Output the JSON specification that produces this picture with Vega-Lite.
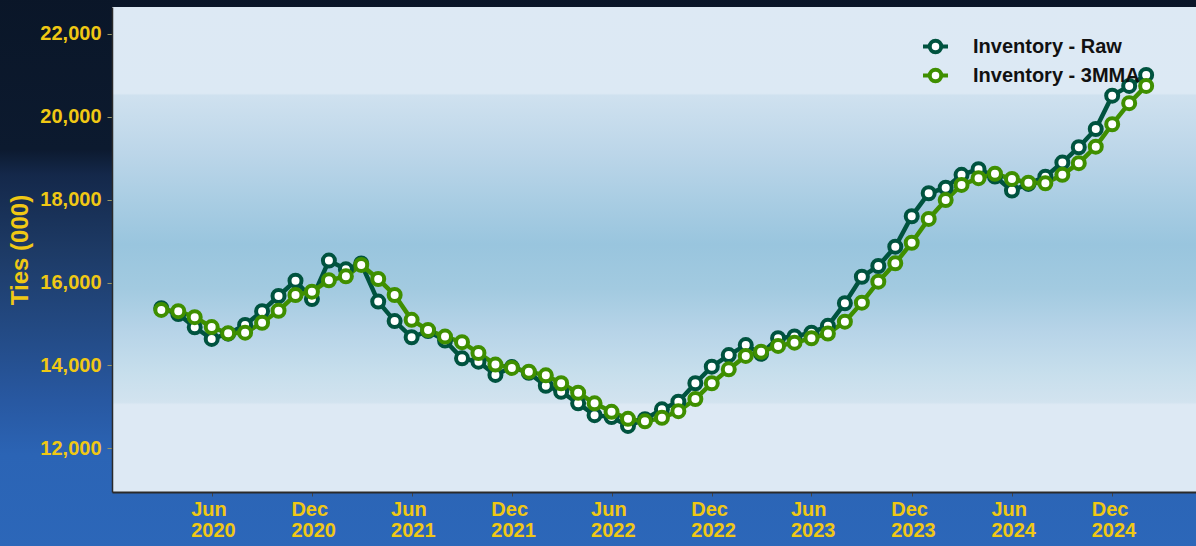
{
  "$schema": "https://vega.github.io/schema/vega-lite/v6.json",
  "width": 1084,
  "height": 485,
  "autosize": {"type": "none"},
  "padding": {"left": 112, "top": 7, "right": 0, "bottom": 54},
  "background": "#2c67b9",
  "config": {"view": {"stroke": null}, "font": "Liberation Sans"},
  "data": {
    "values": [
      {"date": "2020-03-01", "Inventory - Raw": 15380, "Inventory - 3MMA": 15340},
      {"date": "2020-04-01", "Inventory - Raw": 15240, "Inventory - 3MMA": 15310},
      {"date": "2020-05-01", "Inventory - Raw": 14920, "Inventory - 3MMA": 15165},
      {"date": "2020-06-01", "Inventory - Raw": 14640, "Inventory - 3MMA": 14925},
      {"date": "2020-07-01", "Inventory - Raw": 14765, "Inventory - 3MMA": 14775},
      {"date": "2020-08-01", "Inventory - Raw": 14975, "Inventory - 3MMA": 14790},
      {"date": "2020-09-01", "Inventory - Raw": 15310, "Inventory - 3MMA": 15030},
      {"date": "2020-10-01", "Inventory - Raw": 15675, "Inventory - 3MMA": 15320},
      {"date": "2020-11-01", "Inventory - Raw": 16045, "Inventory - 3MMA": 15700},
      {"date": "2020-12-01", "Inventory - Raw": 15600, "Inventory - 3MMA": 15780},
      {"date": "2021-01-01", "Inventory - Raw": 16530, "Inventory - 3MMA": 16055},
      {"date": "2021-02-01", "Inventory - Raw": 16320, "Inventory - 3MMA": 16150},
      {"date": "2021-03-01", "Inventory - Raw": 16460, "Inventory - 3MMA": 16425},
      {"date": "2021-04-01", "Inventory - Raw": 15540, "Inventory - 3MMA": 16085},
      {"date": "2021-05-01", "Inventory - Raw": 15070, "Inventory - 3MMA": 15700},
      {"date": "2021-06-01", "Inventory - Raw": 14680, "Inventory - 3MMA": 15100},
      {"date": "2021-07-01", "Inventory - Raw": 14830, "Inventory - 3MMA": 14855},
      {"date": "2021-08-01", "Inventory - Raw": 14600, "Inventory - 3MMA": 14695},
      {"date": "2021-09-01", "Inventory - Raw": 14170, "Inventory - 3MMA": 14560},
      {"date": "2021-10-01", "Inventory - Raw": 14090, "Inventory - 3MMA": 14300},
      {"date": "2021-11-01", "Inventory - Raw": 13770, "Inventory - 3MMA": 14020},
      {"date": "2021-12-01", "Inventory - Raw": 13960, "Inventory - 3MMA": 13940},
      {"date": "2022-01-01", "Inventory - Raw": 13820, "Inventory - 3MMA": 13850},
      {"date": "2022-02-01", "Inventory - Raw": 13510, "Inventory - 3MMA": 13760},
      {"date": "2022-03-01", "Inventory - Raw": 13365, "Inventory - 3MMA": 13570},
      {"date": "2022-04-01", "Inventory - Raw": 13085, "Inventory - 3MMA": 13340},
      {"date": "2022-05-01", "Inventory - Raw": 12800, "Inventory - 3MMA": 13085},
      {"date": "2022-06-01", "Inventory - Raw": 12755, "Inventory - 3MMA": 12880},
      {"date": "2022-07-01", "Inventory - Raw": 12540, "Inventory - 3MMA": 12710},
      {"date": "2022-08-01", "Inventory - Raw": 12700, "Inventory - 3MMA": 12650},
      {"date": "2022-09-01", "Inventory - Raw": 12940, "Inventory - 3MMA": 12735},
      {"date": "2022-10-01", "Inventory - Raw": 13125, "Inventory - 3MMA": 12895},
      {"date": "2022-11-01", "Inventory - Raw": 13570, "Inventory - 3MMA": 13190},
      {"date": "2022-12-01", "Inventory - Raw": 13970, "Inventory - 3MMA": 13570},
      {"date": "2023-01-01", "Inventory - Raw": 14250, "Inventory - 3MMA": 13905},
      {"date": "2023-02-01", "Inventory - Raw": 14490, "Inventory - 3MMA": 14230},
      {"date": "2023-03-01", "Inventory - Raw": 14280, "Inventory - 3MMA": 14330},
      {"date": "2023-04-01", "Inventory - Raw": 14655, "Inventory - 3MMA": 14470},
      {"date": "2023-05-01", "Inventory - Raw": 14700, "Inventory - 3MMA": 14550},
      {"date": "2023-06-01", "Inventory - Raw": 14790, "Inventory - 3MMA": 14655},
      {"date": "2023-07-01", "Inventory - Raw": 14955, "Inventory - 3MMA": 14770},
      {"date": "2023-08-01", "Inventory - Raw": 15500, "Inventory - 3MMA": 15055},
      {"date": "2023-09-01", "Inventory - Raw": 16140, "Inventory - 3MMA": 15515},
      {"date": "2023-10-01", "Inventory - Raw": 16400, "Inventory - 3MMA": 16020},
      {"date": "2023-11-01", "Inventory - Raw": 16865, "Inventory - 3MMA": 16465},
      {"date": "2023-12-01", "Inventory - Raw": 17600, "Inventory - 3MMA": 16960},
      {"date": "2024-01-01", "Inventory - Raw": 18155, "Inventory - 3MMA": 17535},
      {"date": "2024-02-01", "Inventory - Raw": 18290, "Inventory - 3MMA": 17990},
      {"date": "2024-03-01", "Inventory - Raw": 18600, "Inventory - 3MMA": 18355},
      {"date": "2024-04-01", "Inventory - Raw": 18735, "Inventory - 3MMA": 18520},
      {"date": "2024-05-01", "Inventory - Raw": 18560, "Inventory - 3MMA": 18625},
      {"date": "2024-06-01", "Inventory - Raw": 18220, "Inventory - 3MMA": 18500},
      {"date": "2024-07-01", "Inventory - Raw": 18380, "Inventory - 3MMA": 18410},
      {"date": "2024-08-01", "Inventory - Raw": 18555, "Inventory - 3MMA": 18395},
      {"date": "2024-09-01", "Inventory - Raw": 18895, "Inventory - 3MMA": 18600},
      {"date": "2024-10-01", "Inventory - Raw": 19265, "Inventory - 3MMA": 18880},
      {"date": "2024-11-01", "Inventory - Raw": 19705, "Inventory - 3MMA": 19280},
      {"date": "2024-12-01", "Inventory - Raw": 20510, "Inventory - 3MMA": 19820},
      {"date": "2025-01-01", "Inventory - Raw": 20745, "Inventory - 3MMA": 20330},
      {"date": "2025-02-01", "Inventory - Raw": 21010, "Inventory - 3MMA": 20745}
    ]
  },
  "layer": [
    {
      "data": {"values": [{}]},
      "mark": {
        "type": "rect",
        "fill": {
          "gradient": "linear", "x1": 0, "y1": 0, "x2": 0, "y2": 1,
          "stops": [
            {"offset": 0, "color": "#0a1628"},
            {"offset": 0.28, "color": "#0c1a2f"},
            {"offset": 0.326, "color": "#14284a"},
            {"offset": 0.46, "color": "#1d3a65"},
            {"offset": 0.603, "color": "#234a84"},
            {"offset": 0.728, "color": "#2858a1"},
            {"offset": 0.827, "color": "#2b64b5"},
            {"offset": 1, "color": "#2c67b9"}
          ]
        }
      },
      "encoding": {
        "x": {"datum": {"year": 2019, "month": 4, "date": 1, "utc": true}, "type": "temporal",
              "scale": {"type": "utc", "nice": false, "domain": [{"year": 2019, "month": 12, "date": 2, "utc": true}, {"year": 2025, "month": 5, "date": 3, "utc": true}]},
              "axis": {
                "title": null,
                "values": [
                  {"year": 2020, "month": 6, "date": 1, "utc": true},
                  {"year": 2020, "month": 12, "date": 1, "utc": true},
                  {"year": 2021, "month": 6, "date": 1, "utc": true},
                  {"year": 2021, "month": 12, "date": 1, "utc": true},
                  {"year": 2022, "month": 6, "date": 1, "utc": true},
                  {"year": 2022, "month": 12, "date": 1, "utc": true},
                  {"year": 2023, "month": 6, "date": 1, "utc": true},
                  {"year": 2023, "month": 12, "date": 1, "utc": true},
                  {"year": 2024, "month": 6, "date": 1, "utc": true},
                  {"year": 2024, "month": 12, "date": 1, "utc": true}
                ],
                "labelExpr": "[utcFormat(datum.value, '%b'), utcFormat(datum.value, '%Y')]",
                "labelFont": "Liberation Sans",
                "labelFontWeight": "bold",
                "labelFontSize": 20,
                "labelColor": "#F0C814",
                "labelAlign": "left",
                "labelOffset": -21,
                "labelPadding": 3,
                "labelLineHeight": 21,
                "labelBaseline": "top",
                "labelOverlap": false,
                "labelFlush": false,
                "labelBound": false,
                "tickColor": "#444444",
                "tickSize": 4,
                "domainColor": "#2a2a2a",
                "domainWidth": 2,
                "grid": false,
                "zindex": 2
              }},
        "x2": {"datum": {"year": 2025, "month": 7, "date": 1, "utc": true}},
        "y": {"datum": 23000, "type": "quantitative", "scale": {"domain": [10945, 22650], "nice": false, "zero": false},
              "axis": {
                "title": "Ties (000)",
                "values": [12000, 14000, 16000, 18000, 20000, 22000],
                "labelExpr": "format(datum.value, ',.0f')",
                "labelFont": "Liberation Sans",
                "labelFontWeight": "bold",
                "labelFontSize": 20,
                "labelColor": "#F0C814",
                "labelPadding": 6,
                "tickColor": "#999966",
                "tickSize": 5,
                "domainColor": "#2a2a2a",
                "domainWidth": 1.5,
                "grid": false,
                "titleFont": "Liberation Sans",
                "titleFontWeight": "bold",
                "titleFontSize": 24,
                "titleColor": "#F0C814",
                "titlePadding": 7,
                "zindex": 2
              }},
        "y2": {"datum": 9500}
      }
    },
    {
      "data": {"values": [{}]},
      "mark": {
        "type": "rect",
        "fill": {
          "gradient": "linear", "x1": 0, "y1": 0, "x2": 0, "y2": 1,
          "stops": [
            {"offset": 0, "color": "#dde9f4"},
            {"offset": 0.178, "color": "#dce9f4"},
            {"offset": 0.182, "color": "#cfe1ef"},
            {"offset": 0.30, "color": "#bcd6e9"},
            {"offset": 0.40, "color": "#a9cde3"},
            {"offset": 0.49, "color": "#99c5de"},
            {"offset": 0.58, "color": "#a2cae0"},
            {"offset": 0.67, "color": "#b7d4e8"},
            {"offset": 0.75, "color": "#c6deec"},
            {"offset": 0.815, "color": "#d2e3ef"},
            {"offset": 0.82, "color": "#dde9f4"},
            {"offset": 1, "color": "#dde9f4"}
          ]
        }
      },
      "encoding": {
        "x": {"datum": {"year": 2019, "month": 12, "date": 2, "utc": true}, "type": "temporal",
              "scale": {"type": "utc", "nice": false, "domain": [{"year": 2019, "month": 12, "date": 2, "utc": true}, {"year": 2025, "month": 5, "date": 3, "utc": true}]}},
        "x2": {"datum": {"year": 2025, "month": 5, "date": 3, "utc": true}},
        "y": {"datum": 22650, "type": "quantitative", "scale": {"domain": [10945, 22650], "nice": false, "zero": false}},
        "y2": {"datum": 10945}
      }
    },
    {
      "transform": [{"fold": ["Inventory - Raw", "Inventory - 3MMA"], "as": ["series", "value"]}],
      "mark": {"type": "line", "strokeWidth": 4.5},
      "encoding": {
        "x": {"field": "date", "type": "temporal",
              "scale": {"type": "utc", "nice": false, "domain": [{"year": 2019, "month": 12, "date": 2, "utc": true}, {"year": 2025, "month": 5, "date": 3, "utc": true}]}},
        "y": {"field": "value", "type": "quantitative",
              "scale": {"domain": [10945, 22650], "nice": false, "zero": false}},
        "color": {"field": "series", "type": "nominal",
                  "scale": {"domain": ["Inventory - Raw", "Inventory - 3MMA"], "range": ["#00533f", "#3f8f00"]},
                  "legend": {
                    "orient": "none", "legendX": 809, "legendY": 25, "title": null,
                    "labelFont": "Liberation Sans", "labelFontWeight": "bold", "labelFontSize": 20, "labelColor": "#111111", "labelLimit": 400,
                    "symbolType": "M-1,0L-0.46,0M0.46,0L1,0M-0.46,0A0.46,0.46,0,1,1,0.46,0A0.46,0.46,0,1,1,-0.46,0Z",
                    "symbolSize": 625, "symbolStrokeWidth": 4, "labelOffset": 23, "rowPadding": 0, "padding": 0,
                    "encode": {"symbols": {"update": {"fill": {"value": "white"}, "opacity": {"value": 1}}}}
                  }}
      }
    },
    {
      "transform": [{"fold": ["Inventory - Raw", "Inventory - 3MMA"], "as": ["series", "value"]}],
      "mark": {"type": "point", "filled": false, "fill": "white", "size": 144, "strokeWidth": 4, "opacity": 1},
      "encoding": {
        "x": {"field": "date", "type": "temporal",
              "scale": {"type": "utc", "nice": false, "domain": [{"year": 2019, "month": 12, "date": 2, "utc": true}, {"year": 2025, "month": 5, "date": 3, "utc": true}]}},
        "y": {"field": "value", "type": "quantitative",
              "scale": {"domain": [10945, 22650], "nice": false, "zero": false}},
        "color": {"field": "series", "type": "nominal",
                  "scale": {"domain": ["Inventory - Raw", "Inventory - 3MMA"], "range": ["#00533f", "#3f8f00"]},
                  "legend": {
                    "orient": "none", "legendX": 809, "legendY": 25, "title": null,
                    "labelFont": "Liberation Sans", "labelFontWeight": "bold", "labelFontSize": 20, "labelColor": "#111111", "labelLimit": 400,
                    "symbolType": "M-1,0L-0.46,0M0.46,0L1,0M-0.46,0A0.46,0.46,0,1,1,0.46,0A0.46,0.46,0,1,1,-0.46,0Z",
                    "symbolSize": 625, "symbolStrokeWidth": 4, "labelOffset": 23, "rowPadding": 0, "padding": 0,
                    "encode": {"symbols": {"update": {"fill": {"value": "white"}, "opacity": {"value": 1}}}}
                  }},
        "order": {"field": "series", "sort": "descending"}
      }
    }
  ]
}
